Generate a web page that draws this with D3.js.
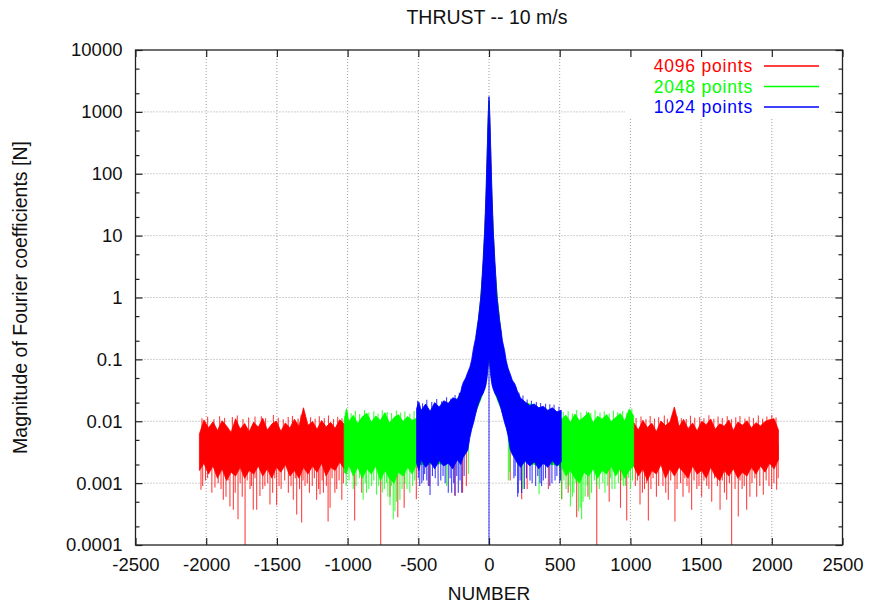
<!DOCTYPE html>
<html>
<head>
<meta charset="utf-8">
<script src="https://cdn.jsdelivr.net/npm/d3@7"></script>
<style>
  body { margin: 0; background: #fff; }
  text { font-family: "Liberation Sans", Arial, Helvetica, sans-serif; }
</style>
</head>
<body>
<div id="chart"></div>
<script>
// ---- data -------------------------------------------------------------
// bands: [n, lower edge of the dense noise, upper edge]
const redBand = [
  [-2048, 0.0016, 0.0062], [-2016, 0.0021, 0.0105], [-1984, 0.0014, 0.0078], [-1952, 0.0019, 0.0098],
  [-1920, 0.0012, 0.0071], [-1888, 0.0017, 0.0102], [-1856, 0.0011, 0.0084], [-1824, 0.0015, 0.0066],
  [-1792, 0.0013, 0.0110], [-1760, 0.0018, 0.0075], [-1728, 0.0012, 0.0092], [-1696, 0.0016, 0.0068],
  [-1664, 0.0014, 0.0097], [-1632, 0.0019, 0.0080], [-1600, 0.0013, 0.0112], [-1568, 0.0017, 0.0072],
  [-1536, 0.0012, 0.0090], [-1504, 0.0018, 0.0101], [-1472, 0.0015, 0.0069], [-1440, 0.0020, 0.0094],
  [-1408, 0.0013, 0.0078], [-1376, 0.0016, 0.0108], [-1344, 0.0012, 0.0083], [-1312, 0.0018, 0.0165],
  [-1280, 0.0014, 0.0086], [-1248, 0.0019, 0.0099], [-1216, 0.0015, 0.0074], [-1184, 0.0021, 0.0103],
  [-1152, 0.0013, 0.0081], [-1120, 0.0018, 0.0096], [-1088, 0.0016, 0.0077], [-1056, 0.0022, 0.0106],
  [-1024, 0.0017, 0.0090], [-960, 0.0022, 0.0085], [-832, 0.0023, 0.0090], [-704, 0.0022, 0.0088],
  [-576, 0.0023, 0.0092], [-448, 0.0022, 0.0110], [-320, 0.0023, 0.0140], [-224, 0.0024, 0.0200],
  [-160, 0.0040, 0.0400], [-120, 0.0090, 0.0800], [-90, 0.0150, 0.20], [-60, 0.024, 0.9],
  [-40, 0.032, 3.5], [-20, 0.048, 40], [-8, 0.08, 500], [-1, 0.1, 1500],
  [1, 0.1, 1500], [8, 0.08, 500], [20, 0.048, 40], [40, 0.032, 3.5],
  [60, 0.024, 0.9], [90, 0.0150, 0.20], [120, 0.0090, 0.0800], [160, 0.0040, 0.0400],
  [224, 0.0024, 0.0200], [320, 0.0023, 0.0140], [448, 0.0022, 0.0110], [576, 0.0023, 0.0092],
  [704, 0.0022, 0.0088], [832, 0.0023, 0.0090], [960, 0.0022, 0.0085],
  [1024, 0.0019, 0.0095], [1056, 0.0013, 0.0072], [1088, 0.0017, 0.0104], [1120, 0.0011, 0.0079],
  [1152, 0.0016, 0.0093], [1184, 0.0014, 0.0068], [1216, 0.0020, 0.0101], [1248, 0.0012, 0.0085],
  [1280, 0.0017, 0.0098], [1311, 0.0013, 0.0170], [1344, 0.0018, 0.0082], [1376, 0.0015, 0.0107],
  [1408, 0.0012, 0.0076], [1440, 0.0019, 0.0094], [1472, 0.0014, 0.0070], [1504, 0.0016, 0.0100],
  [1536, 0.0012, 0.0088], [1568, 0.0018, 0.0109], [1600, 0.0013, 0.0074], [1632, 0.0011, 0.0091],
  [1664, 0.0016, 0.0083], [1696, 0.0013, 0.0105], [1728, 0.0017, 0.0071], [1760, 0.0012, 0.0097],
  [1792, 0.0015, 0.0086], [1824, 0.0013, 0.0102], [1856, 0.0018, 0.0078], [1888, 0.0014, 0.0095],
  [1920, 0.0019, 0.0084], [1952, 0.0015, 0.0099], [1984, 0.0021, 0.0106], [2016, 0.0017, 0.0110],
  [2047, 0.0024, 0.0072]
];

const greenBand = [
  [-1024, 0.0015, 0.0105], [-1008, 0.0014, 0.0160], [-992, 0.0020, 0.0098], [-960, 0.0013, 0.0125],
  [-928, 0.0018, 0.0092], [-896, 0.0012, 0.0118], [-864, 0.0017, 0.0135], [-832, 0.0014, 0.0097],
  [-800, 0.0019, 0.0122], [-768, 0.0011, 0.0103], [-736, 0.0016, 0.0138], [-704, 0.0012, 0.0094],
  [-672, 0.0010, 0.0115], [-640, 0.0015, 0.0128], [-608, 0.0013, 0.0099], [-576, 0.0018, 0.0119],
  [-544, 0.0014, 0.0104], [-512, 0.0020, 0.0112],
  [-448, 0.0020, 0.0140], [-384, 0.0021, 0.0150], [-320, 0.0020, 0.0180], [-256, 0.0022, 0.0200],
  [-200, 0.0024, 0.0260], [-160, 0.0040, 0.045], [-120, 0.0090, 0.085], [-90, 0.015, 0.2],
  [-60, 0.022, 0.9], [-40, 0.030, 3.5], [-20, 0.045, 40], [-8, 0.08, 500], [-1, 0.1, 1500],
  [1, 0.1, 1500], [8, 0.08, 500], [20, 0.045, 40], [40, 0.030, 3.5], [60, 0.022, 0.9],
  [90, 0.015, 0.2], [120, 0.0090, 0.085], [160, 0.0040, 0.045], [200, 0.0024, 0.0260],
  [256, 0.0022, 0.0200], [320, 0.0020, 0.0180], [384, 0.0021, 0.0150], [448, 0.0020, 0.0140],
  [512, 0.0019, 0.0108], [544, 0.0013, 0.0125], [576, 0.0016, 0.0096], [608, 0.0012, 0.0131],
  [640, 0.0010, 0.0102], [672, 0.0015, 0.0117], [704, 0.0013, 0.0140], [736, 0.0017, 0.0095],
  [768, 0.0012, 0.0121], [800, 0.0016, 0.0108], [832, 0.0014, 0.0128], [864, 0.0019, 0.0099],
  [896, 0.0013, 0.0115], [928, 0.0017, 0.0134], [960, 0.0012, 0.0101], [992, 0.0016, 0.0158],
  [1023, 0.0019, 0.0122]
];

const blueBand = [
  [-512, 0.0021, 0.0160], [-496, 0.0016, 0.0205], [-480, 0.0024, 0.0150], [-448, 0.0018, 0.0190],
  [-416, 0.0022, 0.0145], [-384, 0.0017, 0.0200], [-352, 0.0023, 0.0170], [-320, 0.0019, 0.0215],
  [-288, 0.0021, 0.0195], [-256, 0.0017, 0.0240], [-224, 0.0024, 0.0225], [-200, 0.0020, 0.0300],
  [-183, 0.0026, 0.0420], [-165, 0.0030, 0.0500], [-150, 0.0034, 0.0620], [-135, 0.0055, 0.0750],
  [-122, 0.0075, 0.100], [-110, 0.0093, 0.150], [-95, 0.0130, 0.220], [-85, 0.0160, 0.320],
  [-75, 0.0190, 0.450], [-64, 0.0220, 0.750], [-55, 0.0250, 1.2], [-42, 0.0280, 4.0],
  [-30, 0.0330, 13], [-22, 0.0380, 45], [-14, 0.050, 180], [-8, 0.070, 570],
  [-4, 0.090, 1100], [-1, 0.100, 1760], [1, 0.100, 1760], [4, 0.090, 1100],
  [8, 0.070, 560], [14, 0.050, 170], [22, 0.0380, 42], [30, 0.0330, 12],
  [42, 0.0280, 3.8], [55, 0.0250, 1.1], [64, 0.0220, 0.70], [75, 0.0190, 0.42],
  [85, 0.0160, 0.30], [95, 0.0130, 0.20], [110, 0.0095, 0.140], [122, 0.0078, 0.095],
  [135, 0.0058, 0.072], [150, 0.0035, 0.058], [165, 0.0029, 0.046], [183, 0.0025, 0.040],
  [200, 0.0021, 0.031], [224, 0.0018, 0.0235], [256, 0.0023, 0.0205], [288, 0.0019, 0.0180],
  [320, 0.0022, 0.0190], [352, 0.0017, 0.0165], [384, 0.0021, 0.0175], [416, 0.0018, 0.0150],
  [448, 0.0023, 0.0165], [480, 0.0019, 0.0142], [511, 0.0022, 0.0150]
];

// isolated spikes sticking out of the dense band: [n, value]
const redSpikes = [
  // downward
  [-2037, 0.00078], [-2025, 0.0009], [-2005, 0.0011], [-1990, 0.0012], [-1960, 0.0007],
  [-1938, 0.00085], [-1915, 0.0010], [-1895, 0.0008], [-1879, 0.00054], [-1860, 0.0006],
  [-1845, 0.0011], [-1832, 0.00042], [-1808, 0.00037], [-1795, 0.0007], [-1775, 0.00026],
  [-1760, 0.0010], [-1745, 0.0006], [-1725, 0.00009], [-1710, 0.0011], [-1690, 0.0008],
  [-1680, 0.0009], [-1667, 0.00037], [-1655, 0.0012], [-1643, 0.00037], [-1620, 0.00062],
  [-1600, 0.0008], [-1585, 0.0009], [-1565, 0.0010], [-1549, 0.00045], [-1530, 0.0007],
  [-1515, 0.0012], [-1502, 0.00044], [-1485, 0.0009], [-1470, 0.0008], [-1445, 0.0011],
  [-1419, 0.0007], [-1400, 0.0009], [-1384, 0.00054], [-1370, 0.0012], [-1360, 0.00031],
  [-1340, 0.0008], [-1325, 0.00023], [-1315, 0.0011], [-1301, 0.0009], [-1285, 0.0010],
  [-1270, 0.0007], [-1250, 0.0009], [-1235, 0.0012], [-1219, 0.00054], [-1205, 0.0008],
  [-1195, 0.00066], [-1180, 0.0011], [-1171, 0.0007], [-1150, 0.0009], [-1138, 0.00024],
  [-1124, 0.0004], [-1110, 0.0012], [-1090, 0.0007], [-1077, 0.0008], [-1060, 0.0011],
  [-1041, 0.00054], [-1030, 0.0010],
  [-950, 0.00025], [-900, 0.0007], [-766, 0.00009], [-700, 0.0006], [-645, 0.00028],
  [-600, 0.0004], [-514, 0.00055], [-420, 0.0009], [-240, 0.00062], [-187, 0.0007], [-160, 0.0009],
  [150, 0.0011], [231, 0.00055], [270, 0.0008], [420, 0.0008], [514, 0.00055], [560, 0.0007],
  [620, 0.00028], [700, 0.0006], [762, 0.00009], [850, 0.0005], [930, 0.0004], [974, 0.00025],
  [1035, 0.0009], [1050, 0.0011], [1068, 0.00045], [1085, 0.0007], [1100, 0.0008],
  [1115, 0.0010], [1127, 0.00025], [1145, 0.0008], [1160, 0.0012], [1184, 0.0006],
  [1200, 0.0009], [1230, 0.0009], [1250, 0.0007], [1268, 0.00054], [1285, 0.0011],
  [1315, 0.00024], [1330, 0.0008], [1355, 0.0010], [1372, 0.0006], [1385, 0.0012],
  [1400, 0.0009], [1415, 0.0007], [1433, 0.00037], [1450, 0.0011], [1470, 0.0008],
  [1485, 0.0009], [1504, 0.0006], [1520, 0.0011], [1540, 0.0009], [1555, 0.0008],
  [1575, 0.0005], [1595, 0.0012], [1615, 0.0009], [1634, 0.00037], [1650, 0.0011],
  [1665, 0.0007], [1681, 0.00054], [1700, 0.0010], [1716, 0.00009], [1740, 0.0008],
  [1763, 0.00029], [1775, 0.0011], [1790, 0.0008], [1805, 0.0009], [1822, 0.00037],
  [1845, 0.0006], [1860, 0.0010], [1880, 0.0012], [1893, 0.0006], [1915, 0.0009],
  [1940, 0.00065], [1960, 0.0011], [1980, 0.0009], [1999, 0.0008], [2015, 0.0010],
  [2034, 0.00078], [2045, 0.0012],
  // upward
  [-2030, 0.0112], [-1990, 0.0118], [-1945, 0.0108], [-1905, 0.0121], [-1870, 0.0113],
  [-1815, 0.0117], [-1780, 0.0124], [-1740, 0.0109], [-1700, 0.0115], [-1655, 0.0119],
  [-1610, 0.0121], [-1580, 0.0112], [-1525, 0.0126], [-1490, 0.0114], [-1455, 0.0108],
  [-1420, 0.0117], [-1390, 0.0122], [-1350, 0.0111], [-1330, 0.0125], [-1262, 0.0116],
  [-1230, 0.0110], [-1200, 0.0121], [-1165, 0.0113], [-1135, 0.0124], [-1100, 0.0109],
  [-1070, 0.0118], [-1040, 0.0112],
  [1040, 0.0113], [1075, 0.0119], [1110, 0.0108], [1140, 0.0122], [1170, 0.0111],
  [1200, 0.0116], [1240, 0.0124], [1262, 0.0110], [1295, 0.0118], [1330, 0.0121],
  [1360, 0.0112], [1395, 0.0109], [1425, 0.0123], [1455, 0.0114], [1490, 0.0117],
  [1520, 0.0112], [1555, 0.0125], [1590, 0.0110], [1620, 0.0119], [1650, 0.0113],
  [1685, 0.0121], [1715, 0.0108], [1745, 0.0116], [1775, 0.0122], [1810, 0.0111],
  [1840, 0.0118], [1870, 0.0113], [1905, 0.0124], [1935, 0.0110], [1965, 0.0119],
  [2000, 0.0126], [2030, 0.0115]
];

const greenSpikes = [
  // downward
  [-1010, 0.0009], [-990, 0.0011], [-960, 0.0008], [-940, 0.0009], [-915, 0.0012],
  [-890, 0.00054], [-875, 0.0010], [-866, 0.0007], [-850, 0.0008], [-830, 0.0009],
  [-815, 0.0011], [-795, 0.00065], [-780, 0.0009], [-755, 0.0007], [-740, 0.0008],
  [-725, 0.0010], [-715, 0.0006], [-700, 0.00044], [-690, 0.0009], [-677, 0.00026],
  [-665, 0.00035], [-655, 0.0005], [-630, 0.00054], [-615, 0.0008], [-595, 0.0010],
  [-580, 0.0008], [-560, 0.0007], [-540, 0.0009], [-525, 0.0011], [-300, 0.0009], [-146, 0.0014],
  [137, 0.0011], [147, 0.0015], [240, 0.0008], [354, 0.00066], [514, 0.00055],
  [530, 0.0011], [545, 0.0008], [565, 0.0009], [576, 0.00042], [590, 0.0006],
  [600, 0.0007], [615, 0.0010], [632, 0.00035], [645, 0.0004], [655, 0.00026],
  [665, 0.0005], [680, 0.0006], [695, 0.0009], [712, 0.00054], [725, 0.0007],
  [745, 0.0011], [760, 0.0009], [780, 0.0008], [805, 0.0010], [820, 0.0007],
  [840, 0.0009], [860, 0.0012], [870, 0.0008], [890, 0.0008], [915, 0.0010],
  [940, 0.0011], [950, 0.0009], [965, 0.0009], [985, 0.0012], [1000, 0.0008], [1015, 0.0011],
  // upward
  [-1000, 0.0142], [-975, 0.0135], [-945, 0.0148], [-915, 0.0131], [-880, 0.0152],
  [-850, 0.0138], [-815, 0.0145], [-785, 0.0133], [-755, 0.0150], [-720, 0.0141],
  [-690, 0.0136], [-655, 0.0149], [-625, 0.0139], [-595, 0.0144], [-560, 0.0132], [-530, 0.0146],
  [525, 0.0141], [560, 0.0147], [590, 0.0133], [620, 0.0152], [650, 0.0139],
  [690, 0.0145], [720, 0.0136], [750, 0.0151], [785, 0.0138], [815, 0.0144],
  [850, 0.0133], [880, 0.0149], [910, 0.0140], [945, 0.0146], [975, 0.0137], [1010, 0.0160]
];

const blueSpikes = [
  // downward
  [-500, 0.0012], [-490, 0.0009], [-475, 0.0010], [-464, 0.0011], [-455, 0.0014],
  [-440, 0.0011], [-429, 0.0009], [-417, 0.00064], [-400, 0.0013], [-380, 0.0012],
  [-360, 0.0009], [-341, 0.0011], [-325, 0.0013], [-310, 0.0010], [-288, 0.0007],
  [-275, 0.0012], [-264, 0.0007], [-250, 0.0010], [-241, 0.00063], [-228, 0.0013],
  [-217, 0.0007], [-205, 0.0011], [-193, 0.0007], [-176, 0.0013],
  [0, 0.00001],
  [176, 0.0012], [185, 0.0013], [203, 0.0006], [207, 0.00069], [220, 0.0011],
  [231, 0.00069], [250, 0.0008], [265, 0.0012], [290, 0.0011], [305, 0.0010],
  [330, 0.0009], [345, 0.0013], [361, 0.0010], [372, 0.0009], [384, 0.0011],
  [400, 0.0012], [430, 0.0009], [445, 0.0010], [467, 0.0011], [480, 0.0013],
  [500, 0.0010], [505, 0.0011],
  // upward
  [-505, 0.0215], [-470, 0.0195], [-440, 0.0222], [-405, 0.0205], [-370, 0.0228],
  [-335, 0.0210], [-300, 0.0245], [-270, 0.0232], [-240, 0.0265], [-210, 0.0290], [-190, 0.0380],
  [190, 0.0360], [212, 0.0290], [240, 0.0260], [270, 0.0225], [300, 0.0215],
  [335, 0.0205], [365, 0.0198], [400, 0.0192], [430, 0.0188], [460, 0.0185], [495, 0.0172]
];

const seriesNames  = ['4096 points', '2048 points', '1024 points'];
const seriesColors = ['#ff0000', '#00ff00', '#0000ff'];

const xTicks = [-2500, -2000, -1500, -1000, -500, 0, 500, 1000, 1500, 2000, 2500];
const yTicks = [0.0001, 0.001, 0.01, 0.1, 1, 10, 100, 1000, 10000];
const yTickLabels = ['0.0001', '0.001', '0.01', '0.1', '1', '10', '100', '1000', '10000'];

// ---- layout ------------------------------------------------------------
const width = 869, height = 604;
const margin = {top: 50, right: 26.5, bottom: 59, left: 135.5};
const innerW = width - margin.left - margin.right;
const innerH = height - margin.top - margin.bottom;

const x = d3.scaleLinear().domain([-2500, 2500]).range([0, innerW]);
const y = d3.scaleLog().domain([1e-4, 1e4]).range([innerH, 0]);

const svg = d3.select('#chart').append('svg')
  .attr('width', width)
  .attr('height', height);

const g = svg.append('g')
  .attr('transform', `translate(${margin.left},${margin.top})`);

g.append('clipPath').attr('id', 'plot-clip')
  .append('rect').attr('width', innerW).attr('height', innerH);

// grid
const gridColor = '#a0a0a0';
g.append('g').selectAll('line')
  .data(xTicks.slice(1, -1))
  .join('line')
    .attr('x1', d => x(d)).attr('x2', d => x(d))
    .attr('y1', 0).attr('y2', innerH)
    .attr('stroke', gridColor).attr('stroke-dasharray', '1,2');
g.append('g').selectAll('line')
  .data(yTicks.slice(1, -1))
  .join('line')
    .attr('x1', 0).attr('x2', innerW)
    .attr('y1', d => y(d)).attr('y2', d => y(d))
    .attr('stroke', gridColor).attr('stroke-dasharray', '1,2');

// key background hides the grid behind it
g.append('rect')
  .attr('x', 625 - margin.left).attr('y', 0)
  .attr('width', 831 - 625).attr('height', 117 - margin.top)
  .attr('fill', '#fff');

// ---- data ----------------------------------------------------------------
const series = [
  {band: redBand,   spikes: redSpikes},
  {band: greenBand, spikes: greenSpikes},
  {band: blueBand,  spikes: blueSpikes}
];

const area = d3.area()
  .x(d => x(d[0]))
  .y0(d => y(d[1]))
  .y1(d => y(d[2]));

// middle of a band at position n (log interpolation between samples)
const bis = d3.bisector(d => d[0]).left;
function midAt(band, n) {
  const i = Math.max(1, Math.min(band.length - 1, bis(band, n)));
  const a = band[i - 1], b = band[i];
  const t = (n - a[0]) / (b[0] - a[0]);
  const la = Math.log(a[1] * a[2]) / 2, lb = Math.log(b[1] * b[2]) / 2;
  return Math.exp(la * (1 - t) + lb * t);
}

const plot = g.append('g').attr('clip-path', 'url(#plot-clip)');

series.forEach((s, i) => {
  const col = seriesColors[i];
  const sg = plot.append('g');
  sg.append('path')
    .datum(s.band)
    .attr('d', area)
    .attr('fill', col)
    .attr('stroke', col)
    .attr('stroke-width', 0.8)
    .attr('stroke-linejoin', 'round');
  sg.selectAll('line.spike')
    .data(s.spikes)
    .join('line')
      .attr('class', 'spike')
      .attr('x1', d => x(d[0])).attr('x2', d => x(d[0]))
      .attr('y1', d => y(midAt(s.band, d[0])))
      .attr('y2', d => y(d[1]))
      .attr('stroke', col)
      .attr('stroke-opacity', 0.75)
      .attr('stroke-width', 1.1);
});

// ---- axes ----------------------------------------------------------------
const minorY = [];
yTicks.slice(0, -1).forEach(v => { minorY.push(v * 2, v * 5); });

function styleAxis(sel) {
  sel.select('.domain').remove();
  sel.selectAll('line').attr('stroke', '#222').attr('stroke-width', 1.2);
  sel.selectAll('text').attr('font-size', '18.5px').attr('fill', '#111');
}

g.append('g')
  .attr('transform', `translate(0,${innerH})`)
  .call(d3.axisBottom(x).tickValues(xTicks).tickSize(-7).tickPadding(13)
    .tickFormat(d => String(d)))
  .call(styleAxis);
g.append('g')
  .call(d3.axisTop(x).tickValues(xTicks).tickSize(-7).tickFormat(''))
  .call(styleAxis);
g.append('g')
  .call(d3.axisLeft(y).tickValues(yTicks).tickSize(-7).tickPadding(13)
    .tickFormat((d, i) => yTickLabels[i]))
  .call(styleAxis);
g.append('g')
  .attr('transform', `translate(${innerW},0)`)
  .call(d3.axisRight(y).tickValues(yTicks).tickSize(-7).tickFormat(''))
  .call(styleAxis);
g.append('g')
  .call(d3.axisLeft(y).tickValues(minorY).tickSize(-4).tickFormat(''))
  .call(styleAxis);
g.append('g')
  .attr('transform', `translate(${innerW},0)`)
  .call(d3.axisRight(y).tickValues(minorY).tickSize(-4).tickFormat(''))
  .call(styleAxis);

// frame
g.append('rect')
  .attr('width', innerW).attr('height', innerH)
  .attr('fill', 'none').attr('stroke', '#222').attr('stroke-width', 1.3);

// ---- labels ----------------------------------------------------------------
svg.append('text')
  .attr('x', 487).attr('y', 24)
  .attr('text-anchor', 'middle').attr('font-size', '19.5px').attr('fill', '#111')
  .text('THRUST -- 10 m/s');

svg.append('text')
  .attr('x', margin.left + innerW / 2).attr('y', 600)
  .attr('text-anchor', 'middle').attr('font-size', '19px').attr('fill', '#111')
  .text('NUMBER');

svg.append('text')
  .attr('transform', `translate(27,${margin.top + innerH / 2}) rotate(-90)`)
  .attr('text-anchor', 'middle').attr('font-size', '19.5px').attr('fill', '#111')
  .text('Magnitude of Fourier coefficients [N]');

// key
const key = svg.append('g');
seriesNames.forEach((name, i) => {
  const ky = 66 + i * 20.5;
  key.append('text')
    .attr('x', 753).attr('y', ky).attr('dy', '0.35em')
    .attr('text-anchor', 'end').attr('font-size', '17.5px')
    .attr('letter-spacing', '0.8px')
    .attr('fill', seriesColors[i])
    .text(name);
  key.append('line')
    .attr('x1', 764).attr('x2', 819)
    .attr('y1', ky).attr('y2', ky)
    .attr('stroke', seriesColors[i]).attr('stroke-width', 1.3);
});
</script>
</body>
</html>
